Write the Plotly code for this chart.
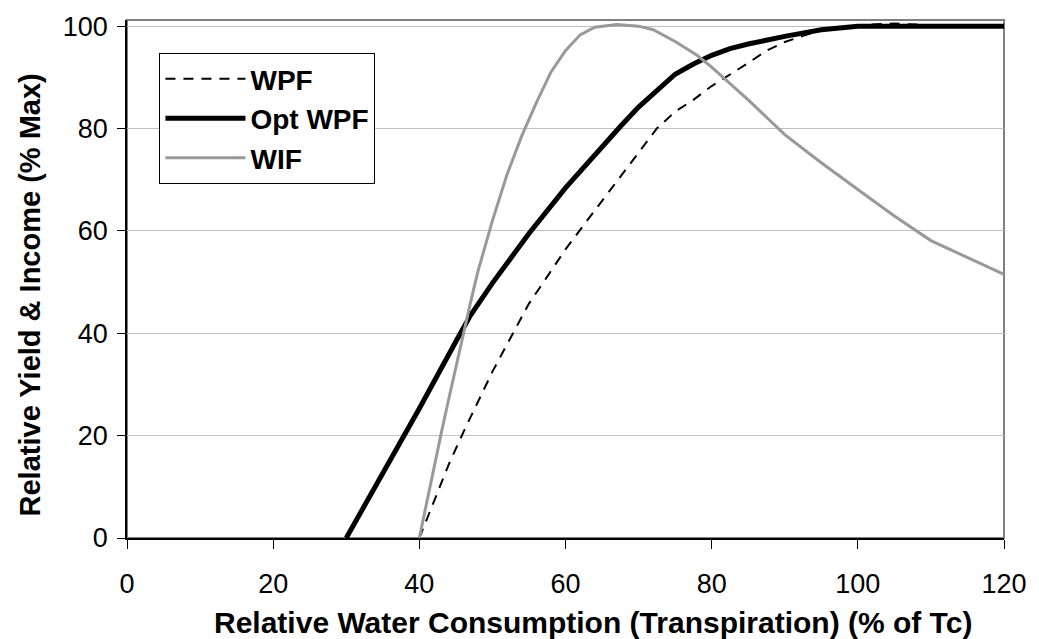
import plotly.graph_objects as go

# ---- data ----
wpf_x = [40, 42, 44, 46, 48, 50, 53, 55, 57, 60, 62, 65, 68, 70, 72.5, 75, 77.5, 80, 82.5, 85, 87.5, 90, 92.5, 95, 100, 105, 110, 120]
wpf_y = [0, 7.2, 14.3, 20.6, 26.7, 32.5, 40.5, 45.8, 50.0, 56.4, 60.2, 65.8, 71.6, 75.3, 80.0, 83.3, 85.6, 88.3, 90.5, 92.8, 95.2, 96.9, 98.1, 99.2, 100.2, 100.5, 100.2, 100]

opt_x = [30, 35, 40, 45, 47, 50, 55, 60, 65, 67.5, 70, 72.5, 75, 77.5, 80, 82.5, 85, 90, 95, 100, 105, 110, 120]
opt_y = [0, 12.5, 25.3, 38.4, 43.5, 49.8, 59.5, 68.4, 76.5, 80.4, 84.2, 87.4, 90.6, 92.6, 94.3, 95.6, 96.5, 98.0, 99.3, 100, 100, 100, 100]

wif_x = [40, 41, 42, 43, 44, 45, 46, 47, 48, 50, 52, 54, 56, 58, 60, 62, 64, 67, 70, 72, 75, 78, 80, 85, 90, 95, 100, 105, 110, 115, 120]
wif_y = [0, 7, 14, 20.5, 27, 33.5, 40, 46, 52, 62, 71, 78.5, 85, 91, 95.2, 98.3, 99.8, 100.3, 100, 99.3, 97, 94.3, 92, 85.6, 78.8, 73.3, 68.1, 62.9, 58.1, 54.8, 51.5]

series_names = ["WPF", "Opt WPF", "WIF"]

x_ticks = [0, 20, 40, 60, 80, 100, 120]
y_ticks = [0, 20, 40, 60, 80, 100]

x_title = "Relative Water Consumption (Transpiration) (% of Tc)"
y_title = "Relative Yield & Income (% Max)"

FONT = "Liberation Sans, Arial, sans-serif"

fig = go.Figure()
fig.add_trace(go.Scatter(x=wpf_x, y=wpf_y, mode="lines", name=series_names[0],
                         line=dict(color="black", width=2, dash="10px,8px")))
fig.add_trace(go.Scatter(x=opt_x, y=opt_y, mode="lines", name=series_names[1],
                         line=dict(color="black", width=5)))
fig.add_trace(go.Scatter(x=wif_x, y=wif_y, mode="lines", name=series_names[2],
                         line=dict(color="#999999", width=3)))

fig.update_layout(
    width=1039, height=639,
    margin=dict(l=127, r=26, t=16, b=101),
    paper_bgcolor="white", plot_bgcolor="white",
    font=dict(family=FONT, color="black"),
    showlegend=True,
    legend=dict(x=0.037, y=0.936, xanchor="left", yanchor="top",
                bgcolor="white", bordercolor="black", borderwidth=1,
                font=dict(size=28, family=FONT, color="black", weight="bold"),
                itemwidth=80, tracegroupgap=0),
    shapes=[dict(type="rect", xref="paper", yref="paper", x0=0, x1=1, y0=0, y1=1,
                 line=dict(color="#808080", width=2), layer="below")],
    annotations=[
        dict(text="<b>" + x_title + "</b>", xref="paper", yref="paper",
             x=0.5316, y=-0.163, xanchor="center", yanchor="middle",
             showarrow=False, font=dict(size=30, family=FONT, color="black")),
        dict(text="<b>" + y_title + "</b>", xref="paper", yref="paper",
             x=-0.1107, y=0.47, xanchor="center", yanchor="middle", textangle=-90,
             showarrow=False, font=dict(size=29, family=FONT, color="black")),
    ],
)

fig.update_xaxes(range=[0, 120], tickvals=x_ticks, ticktext=[str(v) for v in x_ticks],
                 showgrid=False, zeroline=False, showline=True, linecolor="black", linewidth=1.5,
                 ticks="outside", ticklen=9, tickcolor="black", tickwidth=1,
                 tickfont=dict(size=27, family=FONT, color="black"), ticklabelstandoff=12)
fig.update_yaxes(range=[0, 101.2], tickvals=y_ticks, ticktext=[str(v) for v in y_ticks],
                 showgrid=True, gridcolor="#c0c0c0", gridwidth=1,
                 zeroline=False, showline=True, linecolor="black", linewidth=1.5,
                 ticks="outside", ticklen=8, tickcolor="black", tickwidth=1,
                 tickfont=dict(size=27, family=FONT, color="black"), ticklabelstandoff=4)

fig.write_html("out.html", config={"displayModeBar": False},
               post_script="document.body.style.margin='0';document.body.style.overflow='hidden';")
